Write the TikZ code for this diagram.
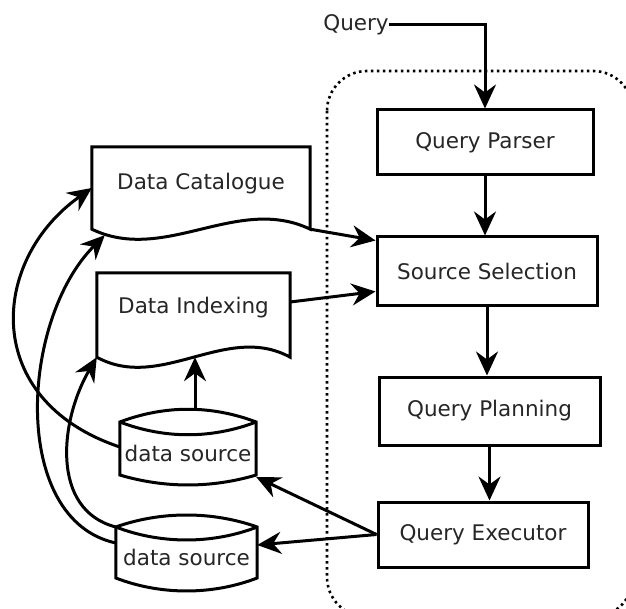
\documentclass[tikz,border=0pt]{standalone}
\usepackage{fontspec}
\setmainfont{DejaVu Sans}
\usetikzlibrary{arrows.meta,calc}
\newcommand{\mycyl}[6]{%
  \draw[outline] ($(#1.west)+(0,#2)$) .. controls ($(#1.west)+(45,#3)$) and ($(#1.east)+(-45,#3)$) .. ($(#1.east)+(0,#2)$)
     -- ($(#1.east)+(0,#5)$) .. controls ($(#1.east)+(-45,#6)$) and ($(#1.west)+(45,#6)$) .. ($(#1.west)+(0,#5)$) -- cycle;
  \draw[outline] ($(#1.west)+(0,#2)$) .. controls ($(#1.west)+(45,#4)$) and ($(#1.east)+(-45,#4)$) .. ($(#1.east)+(0,#2)$);
}
\begin{document}
\begin{tikzpicture}[x=1pt,y=-1pt,
  txt/.style={font=\fontsize{21.5pt}{26pt}\selectfont, text=black!85, inner sep=0pt},
  procbox/.style={draw, line width=3pt, txt, inner sep=0pt},
  region/.style={draw=none, inner sep=0pt},
  outline/.style={line width=3pt, line join=miter},
  arr/.style={line width=3pt, -{Stealth[length=24pt,width=22pt,inset=8pt]}},
  groupline/.style={line width=2.6pt, dash pattern=on 2.5pt off 3.5pt, rounded corners=40pt}]
\useasboundingbox (0,0) rectangle (626,609);
\fill[white] (0,0) rectangle (626,609);

% dotted group
\draw[groupline] (327,71) rectangle (633,617);

% process boxes
\node[procbox, minimum width=216pt, minimum height=65pt] (qp) at (485,142.5) {Query Parser};
\node[procbox, minimum width=220pt, minimum height=69pt] (ss) at (487,271.5) {Source Selection};
\node[procbox, minimum width=221pt, minimum height=68pt] (qpl) at (489.5,411) {Query Planning};
\node[procbox, minimum width=210pt, minimum height=65pt] (qe) at (483,534.5) {Query Executor};

% query input
\node[txt] (q) at (356,25) {Query};

% document shapes
\node[region, minimum width=218pt, minimum height=82pt] (dc) at (201,188) {};
\node[txt] (dctext) at ([yshift=4.6pt]dc.center) {Data Catalogue};
\draw[outline] (dc.south west) -- (dc.north west) -- (dc.north east) -- (dc.south east)
  .. controls ($(dc.south east)+(-73,-35)$) and ($(dc.south west)+(73,35)$) .. cycle;

\node[region, minimum width=193pt, minimum height=84pt] (di) at (193.5,315) {};
\node[txt] (ditext) at ([yshift=7.6pt]di.center) {Data Indexing};
\draw[outline] (di.south west) -- (di.north west) -- (di.north east) -- (di.south east)
  .. controls ($(di.south east)+(-64,-35)$) and ($(di.south west)+(64,35)$) .. cycle;

% data sources
\node[region, minimum width=136pt, minimum height=76pt] (ds1) at (188,447) {};
\mycyl{ds1}{-25}{-42}{-8}{28}{41.3}
\node[txt] (ds1text) at ([yshift=-6pt]ds1.center) {data source};

\node[region, minimum width=141pt, minimum height=76pt] (ds2) at (186.5,553) {};
\mycyl{ds2}{-26}{-42}{-8.7}{25}{42.3}
\node[txt] (ds2text) at ([yshift=-4pt]ds2.center) {data source};

% connectors
\draw[arr] (q.east) -| (qp.north);
\draw[arr] (qp.south) -- (qp.south |- ss.north);
\draw[arr] (ss.south) -- (ss.south |- qpl.north);
\draw[arr] (qpl.south) -- (qpl.south |- qe.north);

\draw[arr] (dc.south east) -- ([yshift=-5pt]ss.north west);
\draw[arr] ([yshift=13pt]di.east) -- ([yshift=16pt]ss.south west);

\draw[arr] (qe.west) -- ([yshift=-30pt]ds1.east);
\draw[arr] (qe.west) -- ([yshift=8pt]ds2.east);

\draw[arr] ([xshift=7pt]ds1.north) -- ([xshift=7pt]ds1.north |- di.south);

\draw[arr] (ds1.west) .. controls (-20,400) and (-10,260) .. (dc.west);
\draw[arr] ([yshift=10pt]ds2.west) .. controls (10,520) and (20,320) .. ([xshift=13pt,yshift=-6pt]dc.south west);
\draw[arr] ([yshift=26pt]ds2.west) .. controls (50,510) and (60,420) .. (di.south west);
\end{tikzpicture}
\end{document}
